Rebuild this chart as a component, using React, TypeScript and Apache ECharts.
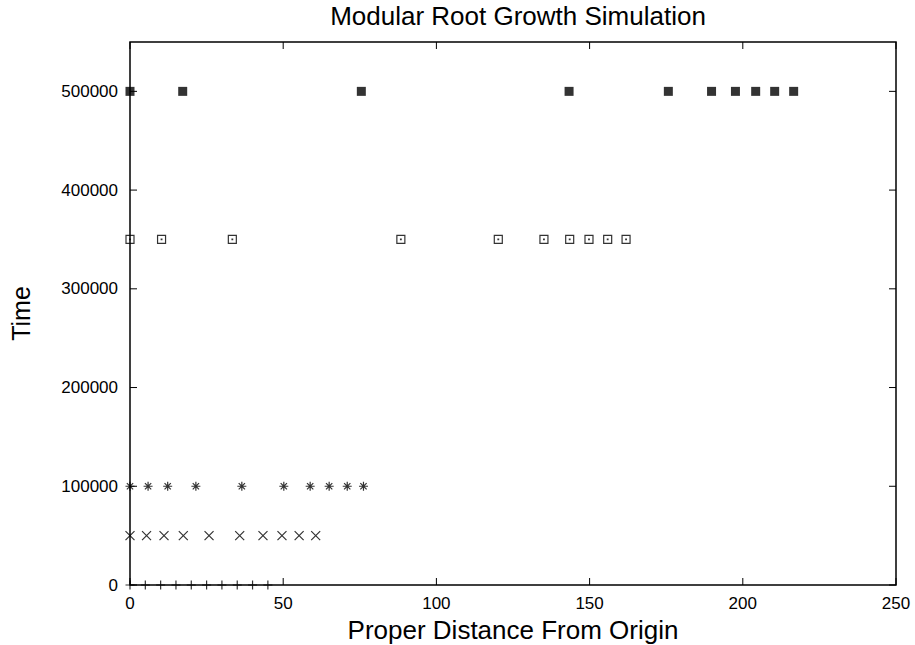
import React, { useEffect, useRef } from "react";
import * as echarts from "echarts";

const timeLevels = [0, 50000, 100000, 350000, 500000];
const distT0 = [0, 5, 10, 15, 20, 25, 30, 35, 40, 45];
const distT50k = [0, 5.4, 11.1, 17.4, 25.8, 35.8, 43.4, 49.6, 55.2, 60.6];
const distT100k = [0, 5.9, 12.3, 21.5, 36.5, 50.2, 58.8, 65.0, 70.9, 76.2];
const distT350k = [0, 10.3, 33.4, 88.4, 120.2, 135.1, 143.5, 149.8, 155.9, 161.9];
const distT500k = [0, 17.2, 75.5, 143.3, 175.7, 189.8, 197.6, 204.2, 210.4, 216.6];
const xTicks = [0, 50, 100, 150, 200, 250];
const yTicks = [0, 100000, 200000, 300000, 400000, 500000];
const X_MAX = 250;
const Y_MAX = 550000;

const FONT = "Liberation Sans, Arial, Helvetica, sans-serif";
const TICK_LEN = 7;

const symPlus = "path://M0,5L10,5M5,0L5,10";
const symCross = "path://M0,0L10,10M10,0L0,10";
const symStar = "path://M0,5L10,5M5,0L5,10M1.5,1.5L8.5,8.5M8.5,1.5L1.5,8.5";
const symBoxDot = "path://M0,0L10,0L10,10L0,10ZM4.6,4.6L5.4,4.6L5.4,5.4L4.6,5.4Z";

export default function App() {
  const ref = useRef<HTMLDivElement>(null);
  useEffect(() => {
    if (!ref.current) return;
    const chart = echarts.init(ref.current, undefined, { renderer: "svg" });
    const mk = (xs: number[], t: number) => xs.map((x) => [x, t]);
    const lineSeries = (name: string, xs: number[], t: number, symbol: string, size: number) => ({
      name,
      type: "scatter",
      data: mk(xs, t),
      symbol,
      symbolSize: size,
      clip: false,
      itemStyle: { color: "none", borderColor: "#000", borderWidth: 1.2 },
      emphasis: { disabled: true },
      z: 3,
    });
    const tickStyle = { stroke: "#000", lineWidth: 1 };
    chart.setOption({
      animation: false,
      backgroundColor: "#fff",
      title: {
        text: "Modular Root Growth Simulation",
        left: 513,
        textAlign: "center",
        top: -2,
        textStyle: { fontFamily: FONT, fontSize: 26, fontWeight: "normal", color: "#000" },
      },
      grid: {
        left: 130,
        right: 19,
        top: 42,
        bottom: 60,
        outerBoundsMode: "none",
        containLabel: false,
        show: true,
        borderColor: "#000",
        borderWidth: 1.5,
        backgroundColor: "transparent",
      },
      xAxis: {
        type: "value",
        min: 0,
        max: X_MAX,
        interval: 50,
        axisLine: { show: false },
        splitLine: { show: false },
        axisTick: { show: false },
        axisLabel: { fontFamily: FONT, fontSize: 17, color: "#000", margin: 10 },
        name: "Proper Distance From Origin",
        nameLocation: "middle",
        nameGap: 31,
        nameTextStyle: { fontFamily: FONT, fontSize: 26, color: "#000" },
      },
      yAxis: {
        type: "value",
        min: 0,
        max: Y_MAX,
        interval: 100000,
        axisLine: { show: false },
        splitLine: { show: false },
        axisTick: { show: false },
        axisLabel: {
          fontFamily: FONT,
          fontSize: 17,
          color: "#000",
          margin: 12,
          showMaxLabel: false,
          formatter: (v: number) => String(v),
        },
        name: "Time",
        nameLocation: "middle",
        nameGap: 97,
        nameRotate: 90,
        nameTextStyle: { fontFamily: FONT, fontSize: 25, color: "#000" },
      },
      series: [
        {
          name: "xticks",
          type: "custom",
          data: xTicks.map((v) => [v]),
          clip: false,
          silent: true,
          z: 1,
          renderItem: (_p: any, api: any) => {
            const v = api.value(0);
            const b = api.coord([v, 0]);
            const t = api.coord([v, Y_MAX]);
            return {
              type: "group",
              children: [
                { type: "line", shape: { x1: b[0], y1: b[1], x2: b[0], y2: b[1] - TICK_LEN }, style: tickStyle },
                { type: "line", shape: { x1: t[0], y1: t[1], x2: t[0], y2: t[1] + TICK_LEN }, style: tickStyle },
              ],
            };
          },
        },
        {
          name: "yticks",
          type: "custom",
          data: yTicks.map((v) => [0, v]),
          clip: false,
          silent: true,
          z: 1,
          renderItem: (_p: any, api: any) => {
            const v = api.value(1);
            const l = api.coord([0, v]);
            const r = api.coord([X_MAX, v]);
            return {
              type: "group",
              children: [
                { type: "line", shape: { x1: l[0], y1: l[1], x2: l[0] + TICK_LEN, y2: l[1] }, style: tickStyle },
                { type: "line", shape: { x1: r[0], y1: r[1], x2: r[0] - TICK_LEN, y2: r[1] }, style: tickStyle },
              ],
            };
          },
        },
        lineSeries("t0", distT0, timeLevels[0], symPlus, 9),
        lineSeries("t50k", distT50k, timeLevels[1], symCross, 9),
        lineSeries("t100k", distT100k, timeLevels[2], symStar, 9),
        lineSeries("t350k", distT350k, timeLevels[3], symBoxDot, 8),
        {
          name: "t500k",
          type: "scatter",
          data: mk(distT500k, timeLevels[4]),
          symbol: "rect",
          symbolSize: 9,
          clip: false,
          itemStyle: { color: "#000" },
          emphasis: { disabled: true },
          z: 3,
        },
      ],
    });
    return () => chart.dispose();
  }, []);
  return (
    <div
      ref={ref}
      style={{ position: "fixed", left: 0, top: 0, width: 915, height: 645, background: "#fff" }}
    />
  );
}
